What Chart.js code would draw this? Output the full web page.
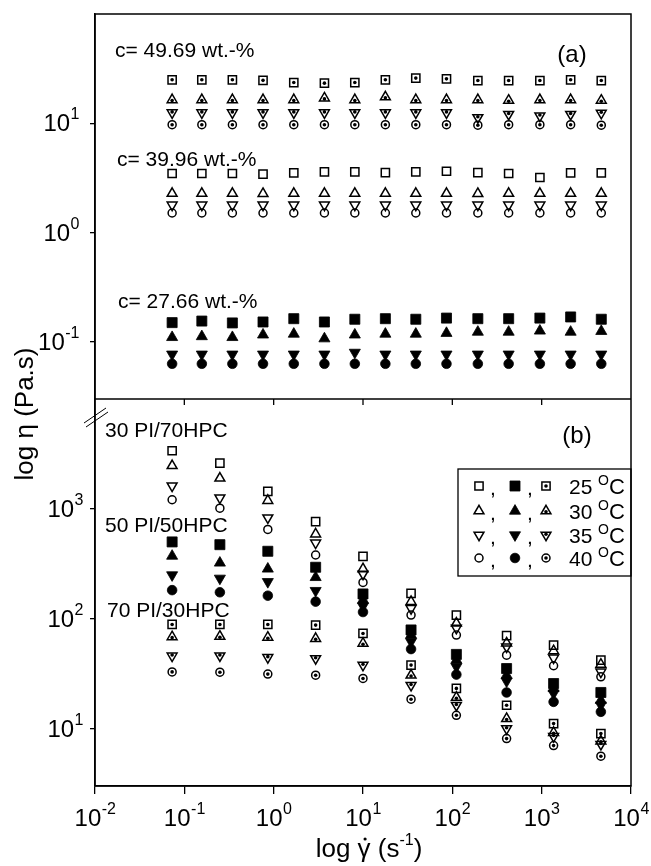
<!DOCTYPE html>
<html>
<head>
<meta charset="utf-8">
<script src="https://cdn.jsdelivr.net/npm/chart.js@4.4.0/dist/chart.umd.min.js"></script>
<style>
  html, body { margin: 0; padding: 0; background: #fff; }
  #wrap { width: 651px; height: 866px; }
</style>
</head>
<body>
<div id="wrap"><canvas id="chart" width="651" height="866"></canvas></div>
<script>
// ---- shear rates (s^-1) ----
const rateA = [0.073, 0.157, 0.345, 0.76, 1.68, 3.7, 8.1, 17.8, 39, 86, 193, 427, 955, 2110, 4650];
const rateB = [0.073, 0.25, 0.86, 2.95, 10.0, 34.5, 111, 405, 1360, 4600];

// ---- panel (a): viscosity vs concentration, 25/30/35/40 C ----
const c4969_25 = [25, 25, 25, 24.7, 23.6, 23.3, 23.6, 25, 25.9, 25.5, 24.6, 24.6, 24.6, 25, 24.6];
const c4969_30 = [16.4, 16.4, 16.4, 16.4, 16.4, 17.0, 16.4, 17.4, 16.4, 16.4, 16.4, 16.2, 16.4, 16.4, 16.2];
const c4969_35 = [12.5, 12.5, 12.5, 12.5, 12.5, 12.5, 12.5, 12.5, 12.5, 12.5, 11.3, 12.1, 11.7, 12.1, 12.4];
const c4969_40 = [9.7, 9.7, 9.7, 9.7, 9.7, 9.7, 9.7, 9.7, 9.7, 9.7, 9.6, 9.7, 9.7, 9.7, 9.6];

const c3996_25 = [3.47, 3.47, 3.47, 3.42, 3.52, 3.59, 3.59, 3.54, 3.59, 3.64, 3.54, 3.47, 3.19, 3.52, 3.52];
const c3996_30 = [2.28, 2.28, 2.28, 2.27, 2.28, 2.28, 2.28, 2.28, 2.28, 2.28, 2.27, 2.28, 2.28, 2.28, 2.28];
const c3996_35 = [1.79, 1.79, 1.79, 1.79, 1.79, 1.79, 1.79, 1.79, 1.79, 1.79, 1.79, 1.79, 1.79, 1.79, 1.79];
const c3996_40 = [1.51, 1.51, 1.51, 1.51, 1.51, 1.51, 1.51, 1.51, 1.51, 1.51, 1.51, 1.51, 1.51, 1.51, 1.51];

const c2766_25 = [0.150, 0.155, 0.149, 0.152, 0.163, 0.152, 0.161, 0.163, 0.161, 0.165, 0.163, 0.163, 0.165, 0.169, 0.161];
const c2766_30 = [0.110, 0.112, 0.110, 0.116, 0.118, 0.107, 0.116, 0.118, 0.118, 0.120, 0.123, 0.123, 0.126, 0.123, 0.125];
const c2766_35 = [0.077, 0.077, 0.077, 0.077, 0.077, 0.077, 0.080, 0.077, 0.077, 0.077, 0.077, 0.077, 0.077, 0.077, 0.077];
const c2766_40 = [0.063, 0.063, 0.063, 0.063, 0.063, 0.063, 0.063, 0.063, 0.063, 0.063, 0.063, 0.063, 0.063, 0.063, 0.063];

// ---- panel (b): PI/HPC blends ----
const pi30_25 = [3380, 2610, 1440, 765, 370, 170, 108, 70, 57.5, 42];
const pi30_30 = [2470, 1900, 1190, 590, 284, 143, 91, 60, 51, 38.4];
const pi30_35 = [1620, 1260, 830, 490, 255, 124, 82, 55.5, 44, 32.8];
const pi30_40 = [1210, 1015, 650, 380, 214, 108, 71, 46.6, 37.3, 29.6];

const pi50_25 = [500, 472, 411, 294, 168, 79, 47.3, 35.2, 25.7, 21.3];
const pi50_30 = [372, 322, 284, 238, 148, 71, 42, 30.6, 23.2, 18.1];
const pi50_35 = [250, 233, 217, 180, 130, 61.7, 36.5, 27, 20.9, 16.3];
const pi50_40 = [182, 174, 162, 143, 115, 52.9, 31, 21.3, 17.5, 14.2];

const pi70_25 = [88.7, 88.7, 88.7, 87.5, 73.4, 37.8, 23.2, 16.3, 11.1, 9.0];
const pi70_30 = [68.4, 69, 67.6, 66, 59.6, 30.6, 19.2, 12.3, 9.2, 7.7];
const pi70_35 = [45.9, 46, 44.4, 43.4, 37.8, 24.8, 16.3, 10.0, 8.5, 7.2];
const pi70_40 = [32.8, 32.6, 31.3, 30.6, 28.6, 18.5, 13.2, 8.1, 7.0, 5.6];

// ---- ticks / labels ----
const xTicks = [0.01, 0.1, 1, 10, 100, 1000, 10000];
const xExp   = ['-2', '-1', '0', '1', '2', '3', '4'];
const yaTicks = [0.1, 1, 10];
const yaExp   = ['-1', '0', '1'];
const ybTicks = [10, 100, 1000];
const ybExp   = ['1', '2', '3'];
const temps   = ['25', '30', '35', '40'];

const FONT = "'Liberation Sans', Arial, sans-serif";

/* ---------- marker styles (shape index: square, up, down, circle) ---------- */
const SHAPE = [
  { pointStyle: 'rect',     rot: 0,   open: 5.8, fill: 7.1 },
  { pointStyle: 'triangle', rot: 0,   open: 5.7, fill: 6.4 },
  { pointStyle: 'triangle', rot: 180, open: 5.7, fill: 6.4 },
  { pointStyle: 'circle',   rot: 0,   open: 4.0, fill: 4.8 },
];

function markerOpts(kind, i) {
  const s = SHAPE[i];
  const filled = kind === 'fill';
  return {
    pointStyle: s.pointStyle,
    rotation: s.rot,
    radius: filled ? s.fill : s.open,
    borderWidth: filled ? 0.8 : 1.5,
    fill: filled ? '#000' : 'rgba(0,0,0,0)',
  };
}

function series(xs, ys, kind, i, axis, label) {
  const m = markerOpts(kind, i);
  return {
    label,
    kind,
    shapeIdx: i,
    data: xs.map((x, j) => ({ x, y: ys[j] })),
    yAxisID: axis,
    xAxisID: 'x',
    pointStyle: m.pointStyle,
    pointRotation: m.rotation,
    pointRadius: m.radius,
    pointBorderWidth: m.borderWidth,
    pointBorderColor: '#000',
    pointBackgroundColor: m.fill,
    showLine: false,
  };
}

const datasets = [
  series(rateA, c4969_25, 'dot', 0, 'ya', 'c=49.69 25'),
  series(rateA, c4969_30, 'dot', 1, 'ya', 'c=49.69 30'),
  series(rateA, c4969_35, 'dot', 2, 'ya', 'c=49.69 35'),
  series(rateA, c4969_40, 'dot', 3, 'ya', 'c=49.69 40'),
  series(rateA, c3996_25, 'open', 0, 'ya', 'c=39.96 25'),
  series(rateA, c3996_30, 'open', 1, 'ya', 'c=39.96 30'),
  series(rateA, c3996_35, 'open', 2, 'ya', 'c=39.96 35'),
  series(rateA, c3996_40, 'open', 3, 'ya', 'c=39.96 40'),
  series(rateA, c2766_25, 'fill', 0, 'ya', 'c=27.66 25'),
  series(rateA, c2766_30, 'fill', 1, 'ya', 'c=27.66 30'),
  series(rateA, c2766_35, 'fill', 2, 'ya', 'c=27.66 35'),
  series(rateA, c2766_40, 'fill', 3, 'ya', 'c=27.66 40'),
  series(rateB, pi30_25, 'open', 0, 'yb', '30PI 25'),
  series(rateB, pi30_30, 'open', 1, 'yb', '30PI 30'),
  series(rateB, pi30_35, 'open', 2, 'yb', '30PI 35'),
  series(rateB, pi30_40, 'open', 3, 'yb', '30PI 40'),
  series(rateB, pi50_25, 'fill', 0, 'yb', '50PI 25'),
  series(rateB, pi50_30, 'fill', 1, 'yb', '50PI 30'),
  series(rateB, pi50_35, 'fill', 2, 'yb', '50PI 35'),
  series(rateB, pi50_40, 'fill', 3, 'yb', '50PI 40'),
  series(rateB, pi70_25, 'dot', 0, 'yb', '70PI 25'),
  series(rateB, pi70_30, 'dot', 1, 'yb', '70PI 30'),
  series(rateB, pi70_35, 'dot', 2, 'yb', '70PI 35'),
  series(rateB, pi70_40, 'dot', 3, 'yb', '70PI 40'),
];

// centre dot offset for the "dotted" symbols (triangles: towards centroid)
const DOT_DY = [0, 0.8, -0.8, 0];

function centreDot(ctx, x, y) {
  ctx.beginPath();
  ctx.arc(x, y, 1.8, 0, Math.PI * 2);
  ctx.fill();
}

/* ---------- axis helpers ---------- */
const tickGrid = len => ({ drawOnChartArea: false, drawTicks: true, tickLength: len, color: '#000', lineWidth: 1.3 });
const axisBorder = { display: true, color: '#000', width: 1.5 };

function logAxis(min, max, ticks, extra) {
  return Object.assign({
    type: 'logarithmic',
    min, max,
    afterBuildTicks: s => { s.ticks = ticks.map(v => ({ value: v })); },
    ticks: { display: false },
    grid: tickGrid(5),
    border: axisBorder,
  }, extra);
}

/* ---------- drawing of labels, frame, legend ---------- */
function pow10(ctx, exp, x, base, align) {
  ctx.font = '24px ' + FONT;
  const wb = ctx.measureText('10').width;
  ctx.font = '16px ' + FONT;
  const we = ctx.measureText(exp).width;
  const x0 = align === 'right' ? x - wb - we : x - (wb + we) / 2;
  ctx.font = '24px ' + FONT;
  ctx.fillText('10', x0, base);
  ctx.font = '16px ' + FONT;
  ctx.fillText(exp, x0 + wb + 0.5, base - 12);
}

const dots = {
  id: 'dots',
  afterDatasetsDraw(chart) {
    const ctx = chart.ctx;
    ctx.save();
    ctx.fillStyle = '#000';
    chart.data.datasets.forEach((ds, di) => {
      if (ds.kind !== 'dot') return;
      chart.getDatasetMeta(di).data.forEach(pt => centreDot(ctx, pt.x, pt.y + DOT_DY[ds.shapeIdx]));
    });
    ctx.restore();
  }
};

const decor = {
  id: 'decor',
  afterDraw(chart) {
    const { ctx, chartArea: ca, scales } = chart;
    const sx = scales.x, ya = scales.ya, yb = scales.yb;
    const sep = yb.top;
    ctx.save();
    ctx.strokeStyle = '#000';
    ctx.fillStyle = '#000';

    // frame + separator
    ctx.lineWidth = 1.5;
    ctx.strokeRect(ca.left, ca.top, ca.right - ca.left, ca.bottom - ca.top);
    ctx.beginPath();
    ctx.moveTo(ca.left, sep); ctx.lineTo(ca.right, sep);
    ctx.stroke();

    // inward ticks on top edge of panel (b)
    ctx.lineWidth = 1.3;
    xTicks.slice(1, -1).forEach(v => {
      const px = sx.getPixelForValue(v);
      ctx.beginPath(); ctx.moveTo(px, sep); ctx.lineTo(px, sep + 6); ctx.stroke();
    });

    // axis break marks
    ctx.lineWidth = 1;
    ctx.beginPath();
    ctx.moveTo(84, sep + 24); ctx.lineTo(106, sep + 9);
    ctx.moveTo(86, sep + 28); ctx.lineTo(108, sep + 13);
    ctx.stroke();

    // tick labels
    ctx.textBaseline = 'alphabetic';
    ctx.textAlign = 'left';
    xTicks.forEach((v, i) => pow10(ctx, xExp[i], sx.getPixelForValue(v), 826, 'center'));
    yaTicks.forEach((v, i) => pow10(ctx, yaExp[i], 79, ya.getPixelForValue(v) + 8, 'right'));
    ybTicks.forEach((v, i) => pow10(ctx, ybExp[i], 83, yb.getPixelForValue(v) + 8, 'right'));

    // y title
    ctx.save();
    ctx.translate(33, 414);
    ctx.rotate(-Math.PI / 2);
    ctx.font = '26px ' + FONT;
    ctx.textAlign = 'center';
    ctx.fillText('log \u03b7 (Pa.s)', 0, 0);
    ctx.restore();

    // x title: log γ̇ (s^-1)
    ctx.font = '26px ' + FONT;
    const p1 = 'log ', p2 = '\u03b3', p3 = ' (s', p5 = ')';
    const w1 = ctx.measureText(p1).width, w2 = ctx.measureText(p2).width;
    const w3 = ctx.measureText(p3).width, w5 = ctx.measureText(p5).width;
    ctx.font = '16px ' + FONT;
    const w4 = ctx.measureText('-1').width;
    const tw = w1 + w2 + w3 + w4 + w5;
    let tx = (ca.left + ca.right) / 2 + 6 - tw / 2;
    const tb = 857;
    ctx.font = '26px ' + FONT;
    ctx.fillText(p1, tx, tb); tx += w1;
    ctx.fillText(p2, tx, tb);
    ctx.beginPath(); ctx.arc(tx + w2 / 2 + 1, tb - 18, 1.6, 0, Math.PI * 2); ctx.fill();
    tx += w2;
    ctx.fillText(p3, tx, tb); tx += w3;
    ctx.font = '16px ' + FONT;
    ctx.fillText('-1', tx, tb - 12); tx += w4;
    ctx.font = '26px ' + FONT;
    ctx.fillText(p5, tx, tb);

    // annotations
    ctx.font = '21px ' + FONT;
    ctx.fillText('c= 49.69 wt.-%', 115, 57);
    ctx.fillText('c= 39.96 wt.-%', 117, 166);
    ctx.fillText('c= 27.66 wt.-%', 118, 308);
    ctx.fillText('30 PI/70HPC', 105, 437);
    ctx.fillText('50 PI/50HPC', 105, 532);
    ctx.fillText('70 PI/30HPC', 107, 617);
    ctx.font = '24px ' + FONT;
    ctx.textAlign = 'center';
    ctx.fillText('(a)', 572, 62);
    ctx.fillText('(b)', 577, 443);
    ctx.textAlign = 'left';

    // legend
    ctx.lineWidth = 1.3;
    ctx.strokeRect(458, 469, ca.right - 458, 107);
    const rows = [486, 511, 535, 558];
    rows.forEach((ry, i) => {
      [['open', 479], ['fill', 515], ['dot', 546]].forEach(([k, mx]) => {
        const m = markerOpts(k, i);
        ctx.save();
        ctx.fillStyle = m.fill;
        ctx.strokeStyle = '#000';
        ctx.lineWidth = m.borderWidth;
        Chart.helpers.drawPoint(ctx, m, mx, ry);
        ctx.restore();
        if (k === 'dot') centreDot(ctx, mx, ry + DOT_DY[i]);
      });
      ctx.font = '21px ' + FONT;
      ctx.fillText(',', 490, ry + 9);
      ctx.fillText(',', 527, ry + 9);
      ctx.fillText(temps[i], 569, ry + 8);
      ctx.font = '14px ' + FONT;
      ctx.fillText('O', 598, ry - 1);
      ctx.font = '22px ' + FONT;
      ctx.fillText('C', 609, ry + 8);
    });
    ctx.restore();
  }
};

new Chart(document.getElementById('chart'), {
  type: 'scatter',
  data: { datasets },
  options: {
    responsive: false,
    animation: false,
    events: [],
    layout: { padding: { top: 14, right: 20, left: 0, bottom: 0 } },
    plugins: { legend: { display: false }, tooltip: { enabled: false } },
    scales: {
      x: logAxis(0.01, 10000, xTicks, {
        position: 'bottom',
        grid: tickGrid(8),
        afterFit: s => { s.height = 80; },
      }),
      // left stacked axes are laid out in reverse order: the later one goes on top
      yb: logAxis(3, 10000, ybTicks, {
        position: 'left', stack: 'v', stackWeight: 387,
        afterFit: s => { s.width = 95; },
      }),
      ya: logAxis(0.03, 100, yaTicks, {
        position: 'left', stack: 'v', stackWeight: 385,
        afterFit: s => { s.width = 95; },
      }),
    },
  },
  plugins: [dots, decor],
});
</script>
</body>
</html>
